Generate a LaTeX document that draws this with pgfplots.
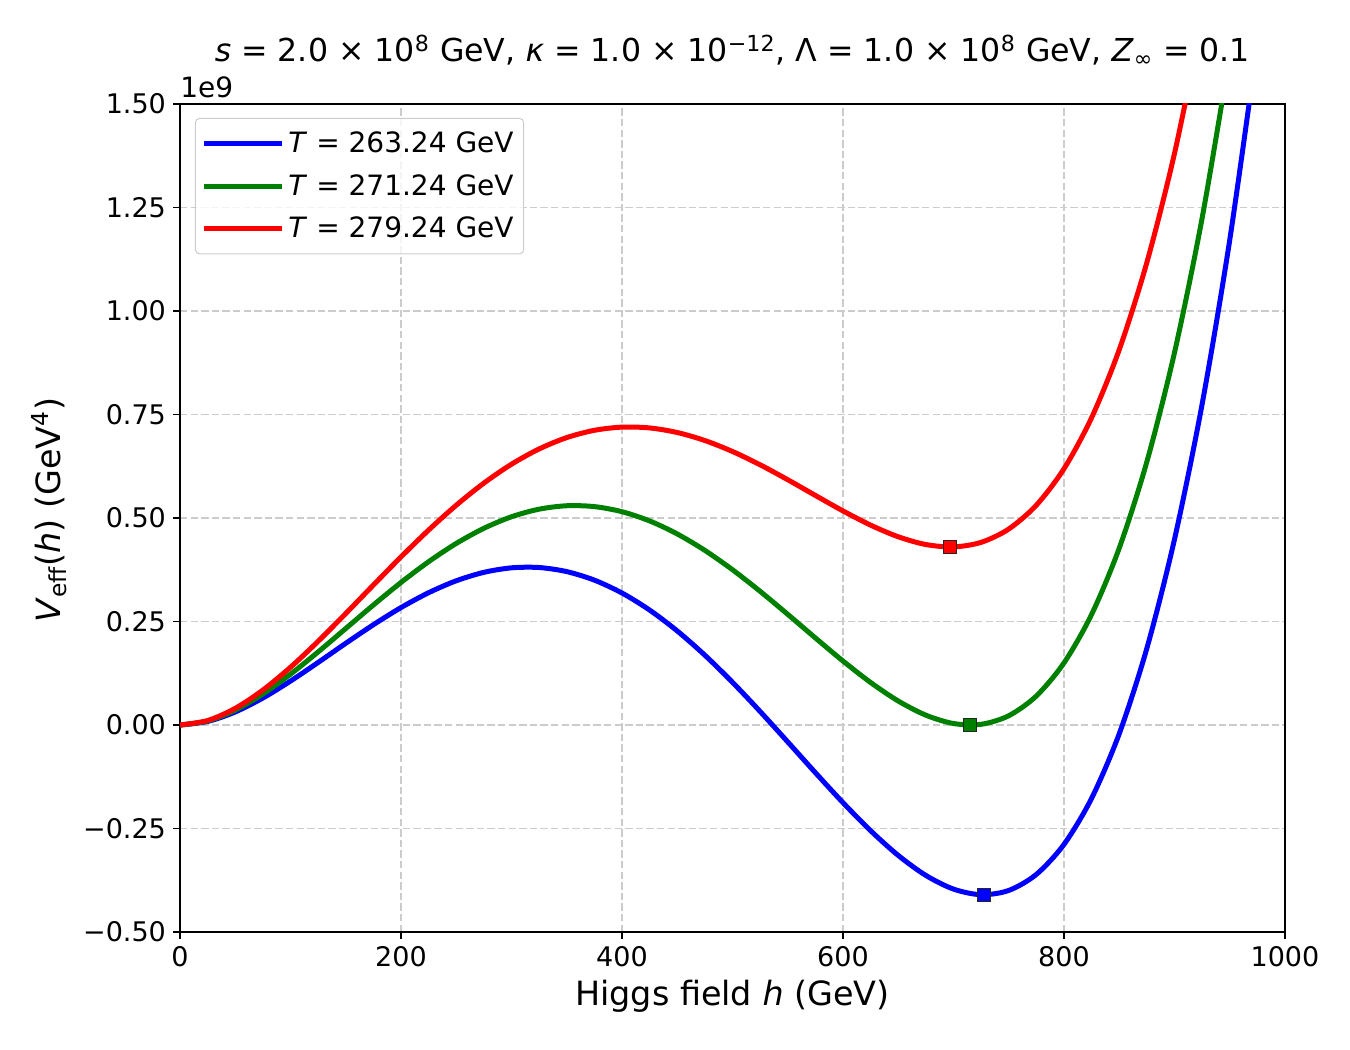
\documentclass[border=0pt]{standalone}
\usepackage{pgfplots}
\pgfplotsset{compat=1.18}
\usepackage{fontspec}
\setmainfont{DejaVu Sans}
\definecolor{mplgreen}{RGB}{0,128,0}
\begin{document}
\begin{tikzpicture}
\useasboundingbox (-90pt,-59pt) rectangle (585pt,466pt);
\begin{axis}[
 at={(0pt,0pt)}, anchor=south west,
 width=552.5pt, height=414pt, scale only axis,
 xmin=0, xmax=1000, ymin=-0.5, ymax=1.5,
 xtick={0,200,400,600,800,1000}, xticklabels={0,200,400,600,800,1000},
 ytick={-0.5,-0.25,0,0.25,0.5,0.75,1,1.25,1.5},
 yticklabels={−0.50,−0.25,0.00,0.25,0.50,0.75,1.00,1.25,1.50},
 tick align=outside, tick pos=left,
 major tick length=3.5pt,
 every tick/.style={black, line width=0.8pt},
 axis line style={black, line width=0.8pt},
 grid=major,
 major grid style={black!20, dash pattern=on 3.7pt off 1.6pt, line width=0.6pt},
 ticklabel style={font=\fontsize{13.5}{15}\selectfont},
 legend cell align=left,
 legend style={at={(0,1)}, anchor=north west, xshift=7.5pt, yshift=-7pt,
   draw=black!20, line width=0.5pt, rounded corners=2pt, fill=white, fill opacity=0.8, text opacity=1,
   font=\fontsize{14}{16}\selectfont, inner xsep=3pt, inner ysep=4.5pt, row sep=5.5pt},
 legend image code/.code={\draw[#1] (0pt,0pt) -- (31.5pt,0pt); \path (0pt,0pt) -- (39pt,0pt);},
]
\addplot[blue, line width=2.5pt, smooth] coordinates {
(0,0) (25,0.00854) (50,0.03152) (75,0.06519) (100,0.10608) (125,0.15106) (150,0.19729) (175,0.24221) (200,0.28361) (225,0.31952) (250,0.34834) (275,0.36872) (300,0.37964) (325,0.38038) (350,0.37051) (375,0.34992) (400,0.31878) (425,0.27760) (450,0.22715) (475,0.16854) (500,0.10314) (525,0.03268) (550,-0.04086) (575,-0.11516) (600,-0.18762) (625,-0.25534) (650,-0.31510) (675,-0.36338) (700,-0.39636) (725,-0.40992) (750,-0.39965) (775,-0.36080) (800,-0.28836) (825,-0.17698) (850,-0.02104) (875,0.18541) (900,0.44860) (925,0.77508) (950,1.17171) (975,1.64563)
};
\addlegendentry{\textit{T} = 263.24 GeV}
\addplot[mplgreen, line width=2.5pt, smooth] coordinates {
(0,0) (25,0.00966) (50,0.03588) (75,0.07476) (100,0.12273) (125,0.17650) (150,0.23307) (175,0.28979) (200,0.34426) (225,0.39443) (250,0.43853) (275,0.47510) (300,0.50298) (325,0.52133) (350,0.52959) (375,0.52752) (400,0.51518) (425,0.49293) (450,0.46146) (475,0.42172) (500,0.37500) (525,0.32288) (550,0.26724) (575,0.21028) (600,0.15449) (625,0.10267) (650,0.05793) (675,0.02366) (700,0.00358) (725,0.00171) (750,0.02236) (775,0.07016) (800,0.15005) (825,0.26724) (850,0.42729) (875,0.63602) (900,0.89959) (925,1.22444) (950,1.61733)
};
\addlegendentry{\textit{T} = 271.24 GeV}
\addplot[red, line width=2.5pt, smooth] coordinates {
(0,0) (25,0.01076) (50,0.04022) (75,0.08436) (100,0.13947) (125,0.20214) (150,0.26926) (175,0.33804) (200,0.40597) (225,0.47086) (250,0.53083) (275,0.58427) (300,0.62992) (325,0.66680) (350,0.69421) (375,0.71181) (400,0.71951) (425,0.71756) (450,0.70649) (475,0.68714) (500,0.66066) (525,0.62851) (550,0.59244) (575,0.55450) (600,0.51706) (625,0.48278) (650,0.45463) (675,0.43588) (700,0.43011) (725,0.44121) (750,0.47334) (775,0.53101) (800,0.61900) (825,0.74241) (850,0.90664) (875,1.11738) (900,1.38065) (925,1.70275)
};
\addlegendentry{\textit{T} = 279.24 GeV}
\addplot[forget plot, only marks, mark=square*, mark size=3.25pt, mark options={fill=blue, draw=black!85, line width=0.6pt}] coordinates {(727.5,-0.41)};
\addplot[forget plot, only marks, mark=square*, mark size=3.25pt, mark options={fill=mplgreen, draw=black!85, line width=0.6pt}] coordinates {(715,0)};
\addplot[forget plot, only marks, mark=square*, mark size=3.25pt, mark options={fill=red, draw=black!85, line width=0.6pt}] coordinates {(697,0.43)};
\end{axis}
\node[anchor=south west, inner sep=0pt, font=\fontsize{14}{16}\selectfont] at (0pt,417pt) {1e9};
\node[anchor=base, inner sep=0pt, font=\fontsize{15.8}{18}\selectfont] at (276.25pt,435pt) {\textit{s} = 2.0 × 10\textsuperscript{8} GeV, \textit{κ} = 1.0 × 10\textsuperscript{−12}, Λ = 1.0 × 10\textsuperscript{8} GeV, \textit{Z}\textsubscript{∞} = 0.1};
\node[anchor=base, inner sep=0pt, font=\fontsize{16.7}{19}\selectfont] at (276.25pt,-37pt) {Higgs field \textit{h} (GeV)};
\node[anchor=base, rotate=90, inner sep=0pt, font=\fontsize{16.7}{19}\selectfont] at (-59.5pt,211pt) {\textit{V}\textsubscript{eff}(\textit{h}) (GeV\textsuperscript{4})};
\end{tikzpicture}
\end{document}
